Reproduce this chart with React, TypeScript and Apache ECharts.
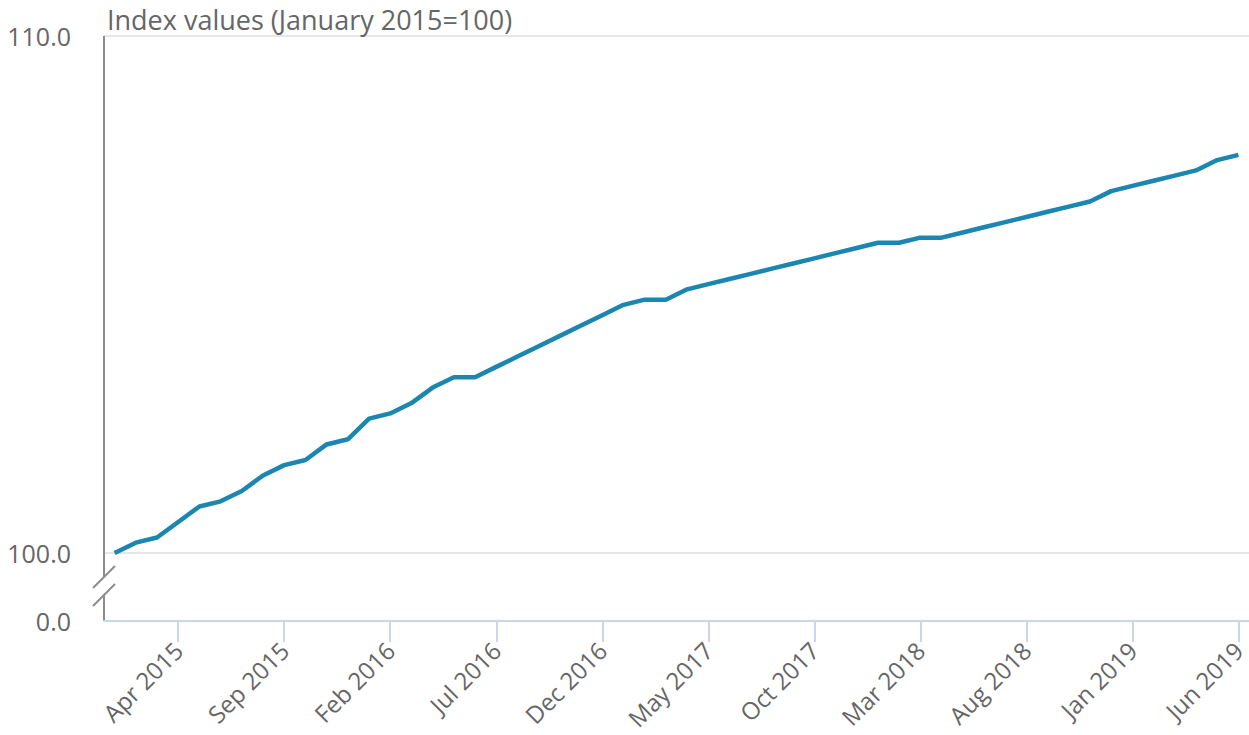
import React, { useEffect, useRef } from 'react';
import * as echarts from 'echarts';

const months: string[] = [
  'Jan 2015', 'Feb 2015', 'Mar 2015', 'Apr 2015', 'May 2015', 'Jun 2015',
  'Jul 2015', 'Aug 2015', 'Sep 2015', 'Oct 2015', 'Nov 2015', 'Dec 2015',
  'Jan 2016', 'Feb 2016', 'Mar 2016', 'Apr 2016', 'May 2016', 'Jun 2016',
  'Jul 2016', 'Aug 2016', 'Sep 2016', 'Oct 2016', 'Nov 2016', 'Dec 2016',
  'Jan 2017', 'Feb 2017', 'Mar 2017', 'Apr 2017', 'May 2017', 'Jun 2017',
  'Jul 2017', 'Aug 2017', 'Sep 2017', 'Oct 2017', 'Nov 2017', 'Dec 2017',
  'Jan 2018', 'Feb 2018', 'Mar 2018', 'Apr 2018', 'May 2018', 'Jun 2018',
  'Jul 2018', 'Aug 2018', 'Sep 2018', 'Oct 2018', 'Nov 2018', 'Dec 2018',
  'Jan 2019', 'Feb 2019', 'Mar 2019', 'Apr 2019', 'May 2019', 'Jun 2019',
];

const indexValues: number[] = [
  100.0, 100.2, 100.3, 100.6, 100.9, 101.0, 101.2, 101.5, 101.7, 101.8, 102.1, 102.2,
  102.6, 102.7, 102.9, 103.2, 103.4, 103.4, 103.6, 103.8, 104.0, 104.2, 104.4, 104.6,
  104.8, 104.9, 104.9, 105.1, 105.2, 105.3, 105.4, 105.5, 105.6, 105.7, 105.8, 105.9,
  106.0, 106.0, 106.1, 106.1, 106.2, 106.3, 106.4, 106.5, 106.6, 106.7, 106.8, 107.0,
  107.1, 107.2, 107.3, 107.4, 107.6, 107.7,
];

const yTickValues: number[] = [100, 110];
const breakBottomLabel = '0.0';
const titleText = 'Index values (January 2015=100)';

// position on the value scale where the broken axis shows "0.0"
const yAxisFloor = 98.685;
const yAxisTop = 110;

const FONT = "'Open Sans', 'Noto Sans', sans-serif";
const TEXT_COLOR = '#666666';

export default function App() {
  const ref = useRef<HTMLDivElement>(null);

  useEffect(() => {
    if (!ref.current) return;
    const chart = echarts.init(ref.current, null, { renderer: 'svg' });
    const showIdx = (idx: number) => idx % 5 === 3;

    chart.setOption({
      animation: false,
      backgroundColor: '#ffffff',
      title: {
        text: titleText,
        left: 102,
        top: 1,
        textStyle: { fontFamily: FONT, fontSize: 27, fontWeight: 'normal', color: TEXT_COLOR },
      },
      grid: { left: 104, right: 0, top: 36, bottom: 114, containLabel: false },
      xAxis: {
        type: 'category',
        data: months,
        boundaryGap: true,
        axisLine: { show: true, lineStyle: { color: '#ccd6eb', width: 2 } },
        axisTick: {
          show: true,
          alignWithLabel: true,
          interval: (idx: number) => showIdx(idx),
          length: 21,
          lineStyle: { color: '#ccd6eb', width: 2 },
        },
        axisLabel: {
          interval: (idx: number) => showIdx(idx),
          rotate: 45,
          margin: 25,
          fontFamily: FONT,
          fontSize: 24,
          color: TEXT_COLOR,
        },
        splitLine: { show: false },
      },
      yAxis: {
        type: 'value',
        min: yAxisFloor,
        max: yAxisTop,
        axisLine: { show: false },
        axisTick: { show: false, customValues: yTickValues },
        axisLabel: {
          customValues: [yAxisFloor, ...yTickValues],
          formatter: (v: number) => (Math.abs(v - yAxisFloor) < 1e-6 ? breakBottomLabel : v.toFixed(1)),
          margin: 33,
          fontFamily: FONT,
          fontSize: 25,
          color: TEXT_COLOR,
        },
        splitLine: { show: true, lineStyle: { color: '#e6e6e6', width: 2 } },
      },
      series: [
        {
          type: 'line',
          data: indexValues,
          showSymbol: false,
          symbol: 'none',
          lineStyle: { color: '#1b86b1', width: 4.5 },
        },
      ],
    });

    const top = chart.convertToPixel({ yAxisIndex: 0 }, yAxisTop) as number;
    const y100 = chart.convertToPixel({ yAxisIndex: 0 }, yTickValues[0]) as number;
    const yFloor = chart.convertToPixel({ yAxisIndex: 0 }, yAxisFloor) as number;
    const ax = 104;
    const c1 = y100 + 24;
    const c2 = y100 + 42;
    const gray = '#8c8c8c';

    chart.setOption({
      graphic: [
        { type: 'line', shape: { x1: ax, y1: top, x2: ax, y2: c1 }, style: { stroke: gray, lineWidth: 2 }, silent: true },
        { type: 'line', shape: { x1: ax, y1: c2, x2: ax, y2: yFloor }, style: { stroke: gray, lineWidth: 2 }, silent: true },
        { type: 'line', shape: { x1: ax - 11, y1: c1 + 11, x2: ax + 11, y2: c1 - 11 }, style: { stroke: gray, lineWidth: 2 }, silent: true },
        { type: 'line', shape: { x1: ax - 11, y1: c2 + 11, x2: ax + 11, y2: c2 - 11 }, style: { stroke: gray, lineWidth: 2 }, silent: true },
      ],
    });

    return () => chart.dispose();
  }, []);

  return (
    <div
      ref={ref}
      style={{ position: 'fixed', left: 0, top: 0, width: 1249, height: 735, background: '#fff' }}
    />
  );
}
